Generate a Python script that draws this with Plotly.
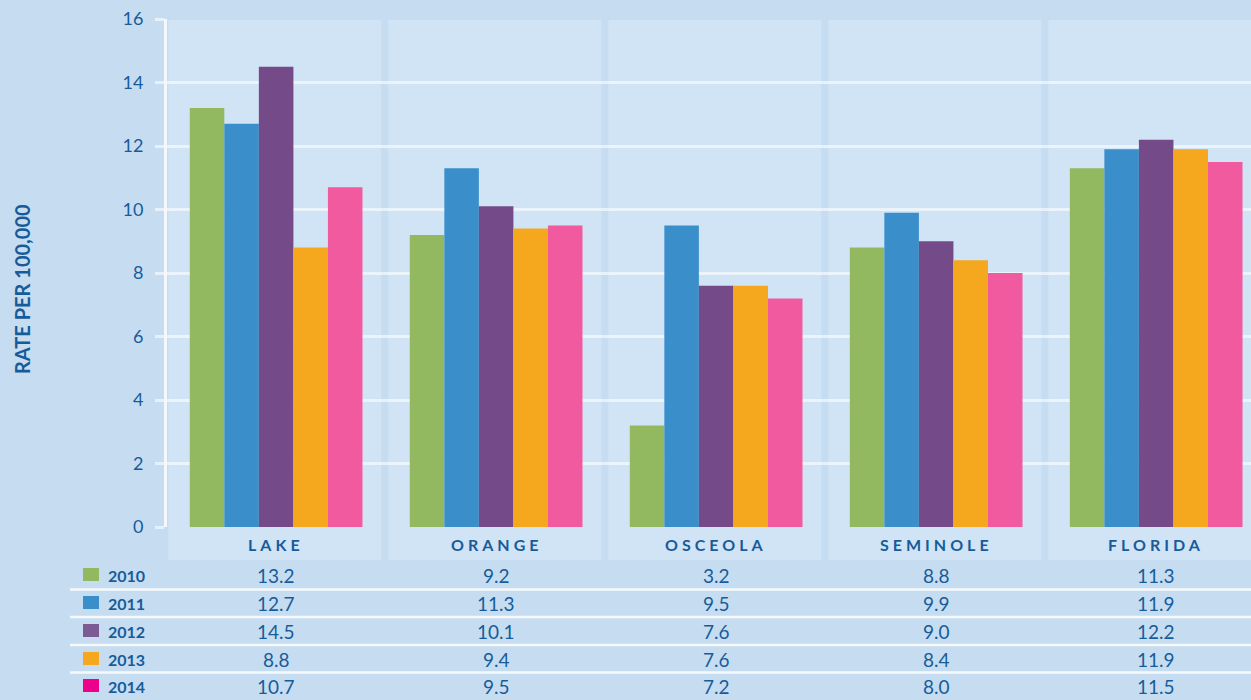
import plotly.graph_objects as go

counties = ['LAKE', 'ORANGE', 'OSCEOLA', 'SEMINOLE', 'FLORIDA']
years = ['2010', '2011', '2012', '2013', '2014']
rate_2010 = [13.2, 9.2, 3.2, 8.8, 11.3]
rate_2011 = [12.7, 11.3, 9.5, 9.9, 11.9]
rate_2012 = [14.5, 10.1, 7.6, 9.0, 12.2]
rate_2013 = [8.8, 9.4, 7.6, 8.4, 11.9]
rate_2014 = [10.7, 9.5, 7.2, 8.0, 11.5]
rates = [rate_2010, rate_2011, rate_2012, rate_2013, rate_2014]

bar_colors = ['#92b960', '#3a8fcb', '#744a88', '#f5a71e', '#f15a9f']
key_colors = ['#92b960', '#3a8fcb', '#7c5a94', '#f5a71e', '#ec008c']

TXT = '#175c9a'
BG = '#c6ddf1'
PANEL = '#d0e4f6'
FONT = 'Lato, Open Sans, sans-serif'
H = 700


def py(px):
    # pixel row -> paper y
    return 1 - px / H


def pxx(px):
    # pixel column -> paper x (plot area starts at 167, 1084 wide)
    return (px - 167) / 1084


fig = go.Figure()
for yr, vals, col in zip(years, rates, bar_colors):
    fig.add_trace(go.Bar(x=counties, y=vals, name=yr, marker_color=col,
                         marker_line_width=0, showlegend=False))

# column panels (chart + header band)
for i in range(len(counties)):
    fig.add_shape(type='rect', xref='x', yref='paper', x0=i - 0.49, x1=i + 0.478,
                  y0=py(560), y1=py(20), fillcolor=PANEL, line_width=0, layer='below')
    fig.add_annotation(x=counties[i], xref='x', y=py(544), yref='paper',
                       xanchor='center', yanchor='middle',
                       text='<span style="letter-spacing:4px">%s</span>' % counties[i],
                       showarrow=False, font=dict(family=FONT, size=16, color=TXT, weight='bold'))

# table
row_centres = [575, 603, 631, 659, 686]
row_lines = [589.5, 617, 645, 672.5]
for ly in row_lines:
    fig.add_shape(type='line', xref='paper', yref='paper', x0=pxx(70), x1=1.0,
                  y0=py(ly), y1=py(ly), line=dict(color='rgba(255,255,255,0.85)', width=2.5))

for yr, vals, kc, cy in zip(years, rates, key_colors, row_centres):
    fig.add_shape(type='rect', xref='paper', yref='paper', x0=pxx(83), x1=pxx(99),
                  y0=py(cy + 6), y1=py(cy - 7), fillcolor=kc, line_width=0)
    fig.add_annotation(x=pxx(106), xref='paper', y=py(cy), yref='paper',
                       xanchor='left', yanchor='middle', text=yr, showarrow=False,
                       font=dict(family=FONT, size=16, color=TXT, weight='bold'))
    for c, v in zip(counties, vals):
        fig.add_annotation(x=c, xref='x', y=py(cy), yref='paper', text=f'{v:.1f}',
                           xanchor='center', yanchor='middle', showarrow=False,
                           font=dict(family=FONT, size=19, color=TXT))

fig.add_annotation(x=pxx(22), xref='paper', y=py(289), yref='paper',
                   xanchor='center', yanchor='middle',
                   text='<b>RATE PER 100,000</b>', textangle=-90, showarrow=False,
                   font=dict(family=FONT, size=20, color=TXT))

fig.update_layout(
    width=1251, height=H,
    margin=dict(l=167, r=0, t=0, b=0, pad=0, autoexpand=False),
    paper_bgcolor=BG, plot_bgcolor=BG,
    barmode='group', bargap=0.215, bargroupgap=0,
    font=dict(family=FONT, color=TXT),
    xaxis=dict(range=[-0.496, 4.431], showticklabels=False, showgrid=False,
               zeroline=False, fixedrange=True, automargin=False),
    yaxis=dict(range=[0, 16], domain=[py(527), py(19)], dtick=2, automargin=False,
               gridcolor='rgba(255,255,255,0.6)', gridwidth=2.5,
               showline=True, linecolor='rgba(255,255,255,0.8)', linewidth=3,
               ticks='outside', ticklen=9, tickwidth=2.5,
               tickcolor='rgba(255,255,255,0.6)', ticklabelstandoff=8,
               zeroline=False, tickfont=dict(family=FONT, size=18, color=TXT)),
)

fig.write_html('out.html', config={'displayModeBar': False},
               post_script="document.body.style.margin='0';")
